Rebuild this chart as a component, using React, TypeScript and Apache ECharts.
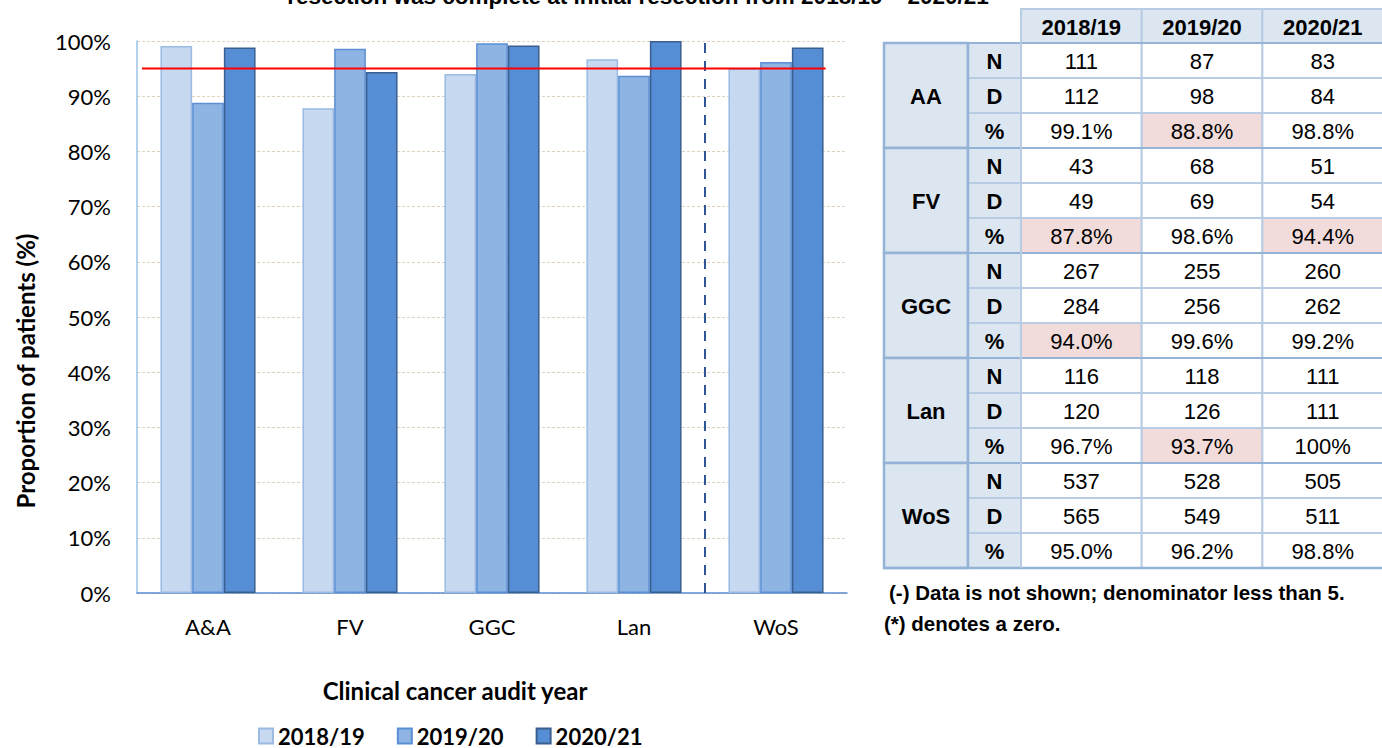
import React, { useEffect, useRef } from "react";
import * as echarts from "echarts";

// Health boards shown on the chart axis
const CATEGORIES = ["A&A", "FV", "GGC", "Lan", "WoS"];
// Audit years (series names / table header)
const YEARS = ["2018/19", "2019/20", "2020/21"];
// Proportion of patients (%) per board, one list per audit year
const PCT_2018_19 = [99.1, 87.8, 94.0, 96.7, 95.0];
const PCT_2019_20 = [88.8, 98.6, 99.6, 93.7, 96.2];
const PCT_2020_21 = [98.8, 94.4, 99.2, 100, 98.8];
// Target level
const TARGET = 95;
// Table: board codes, numerators and denominators per year
const TABLE_BOARDS = ["AA", "FV", "GGC", "Lan", "WoS"];
const NUMERATORS = [
  [111, 87, 83],
  [43, 68, 51],
  [267, 255, 260],
  [116, 118, 111],
  [537, 528, 505],
];
const DENOMINATORS = [
  [112, 98, 84],
  [49, 69, 54],
  [284, 256, 262],
  [120, 126, 111],
  [565, 549, 511],
];
const ROW_LABELS = ["N", "D", "%"];
const NOTES = ["(-) Data is not shown; denominator less than 5.", "(*) denotes a zero."];
const TITLE_TAIL = "resection was complete at initial resection from 2018/19 \u2013 2020/21";
const X_TITLE = "Clinical cancer audit year";
const Y_TITLE = "Proportion of patients (%)";

const SERIES_VALUES = [PCT_2018_19, PCT_2019_20, PCT_2020_21];
const BAR_FILL = ["#C6D9F1", "#8EB4E3", "#558ED5"];
const BAR_EDGE = ["#9BBBE3", "#5B8FD5", "#3A5F8E"];

const CHART_FONT = "Lato";
const TABLE_FONT = "Liberation Sans";

function fmtPct(v: number): string {
  return v === 100 ? "100%" : v.toFixed(1) + "%";
}

function buildTable(): any[] {
  const els: any[] = [];
  const gx = 884; // group column left
  const lx = 968; // N/D/% column left
  const vx = 1021; // first value column left
  const colW = 120.7;
  const headTop = 9;
  const headH = 34;
  const bodyTop = 43;
  const rowH = 35;
  const line = "#B8CCE4";
  const strong = "#95B3D7";
  const txt = (text: string, x: number, y: number, bold: boolean, size = 22) => ({
    type: "text",
    x,
    y,
    silent: true,
    style: {
      text,
      fill: "#000",
      fontFamily: TABLE_FONT,
      fontSize: size,
      fontWeight: bold ? "bold" : "normal",
      textAlign: "center",
      textVerticalAlign: "middle",
    },
  });

  // header row
  YEARS.forEach((y, j) => {
    const x = vx + j * colW;
    els.push({
      type: "rect",
      shape: { x, y: headTop, width: colW, height: headH },
      style: { fill: "#DCE6F1", stroke: line, lineWidth: 2 },
    });
    els.push(txt(y, x + colW / 2, headTop + headH / 2 + 1, true));
  });

  TABLE_BOARDS.forEach((b, i) => {
    const pcts = SERIES_VALUES.map((s) => s[i]);
    const rows = [
      NUMERATORS[i].map(String),
      DENOMINATORS[i].map(String),
      pcts.map(fmtPct),
    ];
    const gTop = bodyTop + i * 3 * rowH;
    els.push({
      type: "rect",
      shape: { x: gx, y: gTop, width: lx - gx, height: rowH * 3 },
      style: { fill: "#DCE6F1", stroke: strong, lineWidth: 2.5 },
    });
    els.push(txt(b, (gx + lx) / 2, gTop + rowH * 1.5 + 1, true));
    rows.forEach((vals, r) => {
      const y = gTop + r * rowH;
      els.push({
        type: "rect",
        shape: { x: lx, y, width: vx - lx, height: rowH },
        style: { fill: "#DCE6F1", stroke: line, lineWidth: 2 },
      });
      els.push(txt(ROW_LABELS[r], (lx + vx) / 2, y + rowH / 2 + 1, true));
      vals.forEach((v, j) => {
        const x = vx + j * colW;
        const pink = r === 2 && pcts[j] < TARGET;
        els.push({
          type: "rect",
          shape: { x, y, width: colW, height: rowH },
          style: { fill: pink ? "#F2DCDB" : "#FFFFFF", stroke: line, lineWidth: 2 },
        });
        els.push(txt(v, x + colW / 2, y + rowH / 2 + 1, false));
      });
    });
    // stronger line at group boundaries
    els.push({
      type: "line",
      shape: { x1: gx, y1: gTop, x2: 1382, y2: gTop },
      style: { stroke: strong, lineWidth: 2 },
    });
  });
  const bottom = bodyTop + TABLE_BOARDS.length * 3 * rowH;
  els.push({
    type: "line",
    shape: { x1: gx, y1: bottom, x2: 1382, y2: bottom },
    style: { stroke: strong, lineWidth: 2.5 },
  });
  els.push({
    type: "line",
    shape: { x1: lx, y1: bodyTop, x2: lx, y2: bottom },
    style: { stroke: strong, lineWidth: 2.5 },
  });
  els.push({
    type: "line",
    shape: { x1: vx, y1: headTop, x2: vx, y2: bottom },
    style: { stroke: line, lineWidth: 2 },
  });

  // footnotes
  [
    { t: NOTES[0], x: 889, y: 592 },
    { t: NOTES[1], x: 884, y: 623 },
  ].forEach((n) =>
    els.push({
      type: "text",
      x: n.x,
      y: n.y,
      silent: true,
      style: {
        text: n.t,
        fill: "#000",
        fontFamily: TABLE_FONT,
        fontSize: 20.5,
        fontWeight: "bold",
        textAlign: "left",
        textVerticalAlign: "middle",
      },
    })
  );
  return els;
}

export default function App() {
  const ref = useRef<HTMLDivElement>(null);

  useEffect(() => {
    document.body.style.margin = "0";
    const el = ref.current;
    if (!el) return;
    const chart = echarts.init(el, null, { renderer: "svg" });

    const barSeries = YEARS.map((name, k) => ({
      name,
      type: "bar",
      xAxisIndex: 0,
      data: SERIES_VALUES[k],
      barGap: "0%",
      barCategoryGap: "33%",
      itemStyle: { color: BAR_FILL[k], borderColor: BAR_EDGE[k], borderWidth: 1.5 },
    }));

    const option: any = {
      animation: false,
      backgroundColor: "#FFFFFF",
      grid: { left: 137, right: 535, top: 41, bottom: 155, containLabel: false },
      legend: {
        data: YEARS,
        left: 258,
        top: 725,
        padding: 0,
        icon: "rect",
        itemWidth: 14,
        itemHeight: 15,
        itemGap: 32,
        textStyle: {
          fontFamily: CHART_FONT,
          fontSize: 22,
          lineHeight: 22,
          fontWeight: "bold",
          color: "#000",
        },
      },
      xAxis: [
        {
          type: "category",
          data: CATEGORIES,
          axisLine: { lineStyle: { color: "#5B8BD0", width: 1.5 } },
          axisTick: { show: false },
          axisLabel: { fontFamily: CHART_FONT, fontSize: 22, color: "#000", margin: 22 },
          splitLine: { show: false },
        },
        { type: "value", min: 0, max: CATEGORIES.length, show: false },
      ],
      yAxis: {
        type: "value",
        min: 0,
        max: 100,
        interval: 10,
        axisLine: { show: true, lineStyle: { color: "#9DC3E6", width: 1.5 } },
        axisTick: { show: false },
        axisLabel: {
          formatter: "{value}%",
          fontFamily: CHART_FONT,
          fontSize: 22,
          color: "#000",
          margin: 26,
        },
        splitLine: { show: true, lineStyle: { color: "#DDD3BE", type: [3, 2], width: 1 } },
      },
      series: [
        ...barSeries,
        {
          name: "target",
          type: "line",
          xAxisIndex: 1,
          data: [
            [0.035, TARGET],
            [4.85, TARGET],
          ],
          symbol: "none",
          silent: true,
          lineStyle: { color: "#FF0000", width: 2 },
          z: 5,
        },
        {
          name: "divider",
          type: "line",
          xAxisIndex: 1,
          data: [
            [4, 0],
            [4, 100],
          ],
          symbol: "none",
          silent: true,
          lineStyle: { color: "#2F5597", width: 2, type: [10, 8] },
          z: 4,
        },
      ],
      graphic: [
        {
          type: "text",
          x: 638,
          y: -4,
          silent: true,
          style: {
            text: TITLE_TAIL,
            fill: "#000",
            fontFamily: TABLE_FONT,
            fontSize: 22.5,
            fontWeight: "bold",
            textAlign: "center",
            textVerticalAlign: "middle",
          },
        },
        {
          type: "text",
          x: 25,
          y: 371,
          rotation: Math.PI / 2,
          silent: true,
          style: {
            text: Y_TITLE,
            fill: "#000",
            fontFamily: CHART_FONT,
            fontSize: 24,
            fontWeight: "bold",
            textAlign: "center",
            textVerticalAlign: "middle",
          },
        },
        {
          type: "text",
          x: 455,
          y: 690,
          silent: true,
          style: {
            text: X_TITLE,
            fill: "#000",
            fontFamily: CHART_FONT,
            fontSize: 24,
            fontWeight: "bold",
            textAlign: "center",
            textVerticalAlign: "middle",
          },
        },
        ...buildTable(),
      ],
    };

    chart.setOption(option);
    return () => chart.dispose();
  }, []);

  return <div ref={ref} style={{ width: 1382, height: 748 }} />;
}
